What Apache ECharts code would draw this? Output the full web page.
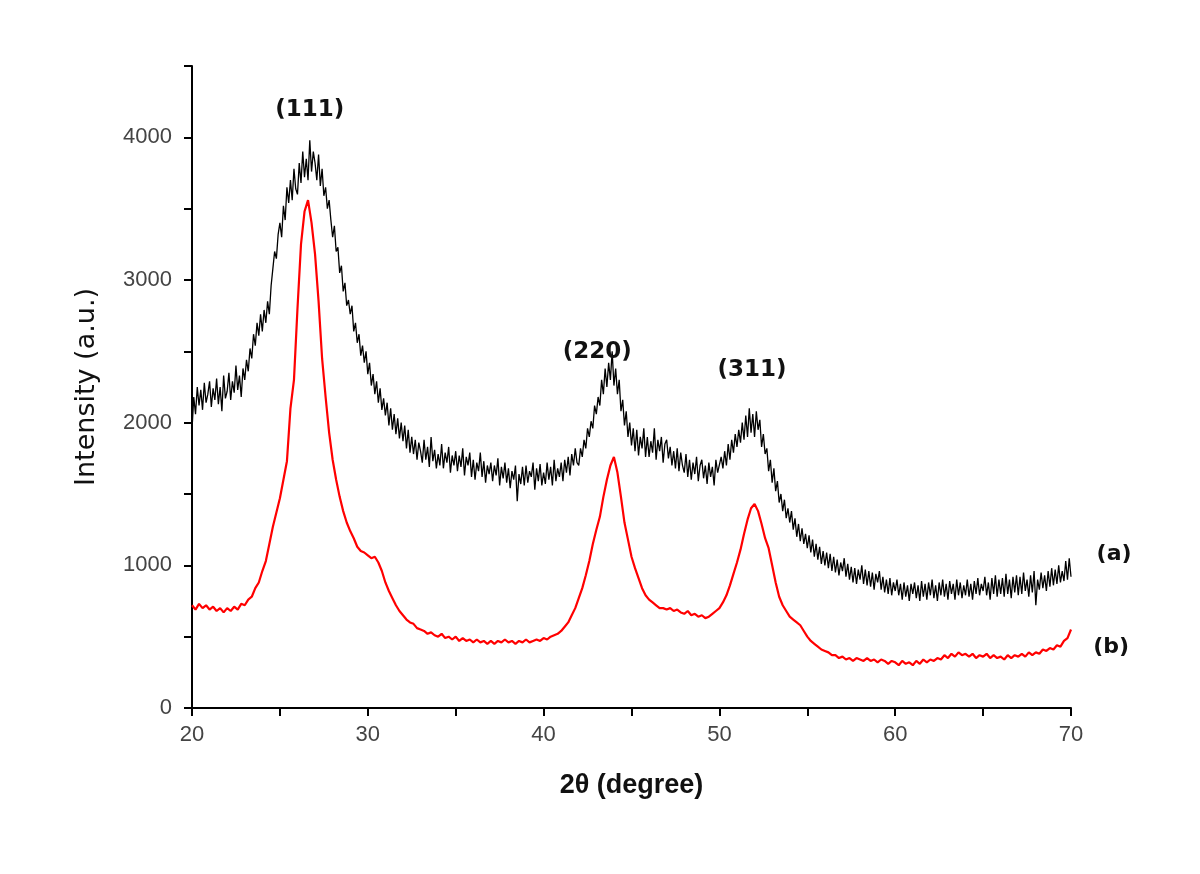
<!DOCTYPE html>
<html>
<head>
<meta charset="utf-8">
<script src="https://cdn.jsdelivr.net/npm/echarts@6/dist/echarts.min.js"></script>
<style>
html,body{margin:0;padding:0;background:#fff;}
#chart{width:1200px;height:874px;}
</style>
</head>
<body>
<div id="chart"></div>
<script>
// 2-theta sampling (degrees)
const twoThetaStart = 20;
const stepA = 0.1;   // curve (a) sampling step
const stepB = 0.2;   // curve (b) sampling step

// Curve (a): black, one row per degree (20.0 ... 20.9, 21.0 ... ), last value at 70
const intensityA = [
1950,2180,2060,2250,2120,2230,2090,2280,2140,2200,
2290,2110,2240,2160,2310,2130,2250,2080,2330,2170,
2220,2350,2160,2290,2210,2400,2230,2330,2180,2380,
2300,2440,2360,2520,2450,2620,2540,2700,2610,2760,
2640,2790,2700,2850,2760,2960,3080,3200,3150,3320,
3400,3300,3520,3420,3650,3540,3700,3560,3780,3640,
3600,3820,3680,3900,3720,3850,3700,3980,3760,3900,
3820,3700,3880,3660,3780,3590,3650,3500,3560,3420,
3300,3380,3200,3230,3050,3100,2920,2980,2820,2860,
2760,2820,2640,2700,2560,2620,2470,2540,2420,2500,
2340,2420,2260,2340,2200,2290,2140,2240,2090,2170,
2050,2140,1980,2100,1950,2060,1920,2030,1890,2000,
1870,1980,1820,1950,1790,1900,1780,1880,1740,1860,
1800,1720,1880,1740,1830,1690,1900,1730,1810,1680,
1780,1700,1850,1680,1790,1720,1830,1650,1770,1700,
1800,1660,1770,1690,1820,1630,1760,1700,1790,1620,
1740,1600,1720,1660,1790,1620,1730,1580,1700,1640,
1720,1590,1700,1630,1750,1560,1690,1610,1720,1580,
1680,1540,1660,1600,1700,1450,1640,1570,1690,1560,
1700,1580,1660,1620,1720,1530,1680,1590,1710,1560,
1650,1570,1720,1600,1690,1560,1740,1590,1680,1620,
1720,1590,1740,1650,1760,1630,1780,1700,1820,1720,
1700,1820,1760,1880,1820,1960,1900,2010,1960,2120,
2060,2180,2120,2300,2200,2380,2250,2420,2300,2500,
2260,2380,2200,2300,2080,2160,1980,2080,1900,2000,
1840,1960,1800,1950,1770,1900,1820,1960,1760,1900,
1760,1870,1790,1960,1740,1880,1800,1900,1720,1850,
1880,1750,1830,1700,1800,1680,1820,1660,1790,1700,
1650,1780,1620,1740,1600,1720,1640,1760,1590,1700,
1740,1610,1700,1570,1720,1620,1690,1560,1740,1650,
1640,1760,1680,1800,1700,1850,1740,1880,1790,1920,
1830,1950,1860,2000,1880,2050,1900,2100,1930,2060,
1900,2080,1950,2020,1830,1920,1780,1820,1660,1740,
1580,1680,1520,1590,1440,1500,1380,1460,1330,1400,
1300,1380,1250,1330,1200,1290,1170,1260,1150,1220,
1120,1210,1090,1180,1060,1150,1040,1130,1010,1100,
1000,1090,980,1080,960,1060,950,1040,930,1020,
960,1050,920,1010,900,990,880,980,870,970,
900,1000,870,970,860,960,850,950,830,940,
880,960,830,920,810,900,800,910,790,880,
820,900,790,870,760,880,780,860,750,870,
800,880,770,860,750,890,780,870,760,880,
790,900,770,860,750,880,790,900,780,870,
760,890,800,870,760,900,790,880,770,860,
790,900,780,870,760,890,800,910,790,870,
820,920,790,880,760,910,800,930,780,900,
800,910,780,940,800,900,770,920,810,930,
790,920,800,950,820,900,780,930,810,960,
720,900,830,950,840,930,820,960,850,980,
860,970,870,1000,880,960,890,1030,900,1050,
920
];

// Curve (b): red, five values per degree (x.0, x.2, x.4, x.6, x.8), last value at 70
const intensityB = [
720,690,730,700,720, 690,710,680,700,670,
700,680,710,690,730, 720,760,780,840,880,
960,1030,1150,1270,1370, 1470,1600,1730,2100,2300,
2800,3250,3480,3560,3400, 3180,2850,2450,2180,1930,
1740,1600,1480,1380,1300, 1240,1190,1130,1100,1090,
1070,1050,1060,1020,960, 880,820,770,720,680,
650,620,600,590,560, 550,540,520,530,510,
500,520,490,500,480, 500,470,490,470,480,
460,480,460,470,450, 470,450,470,460,480,
460,470,450,470,460, 480,460,470,480,470,
490,480,500,510,520, 540,570,600,650,700,
770,840,930,1030,1150, 1250,1340,1480,1600,1700,
1760,1650,1480,1300,1180, 1060,980,910,840,790,
760,740,720,700,700, 690,700,680,690,670,
660,680,650,660,640, 650,630,640,660,680,
700,740,790,860,940, 1020,1110,1220,1320,1400,
1430,1380,1290,1190,1120, 1000,880,780,720,680,
640,620,600,580,540, 500,470,450,430,410,
400,390,370,370,350, 360,340,350,330,350,
340,330,350,330,340, 320,340,330,310,330,
320,300,330,310,320, 300,330,310,340,320,
340,330,350,340,370, 350,380,360,390,370,
380,360,380,350,370, 360,380,350,370,350,
360,340,370,350,370, 360,380,360,390,370,
390,380,410,400,420, 410,440,430,470,490,
550
];

// Annotation texts and their data-space anchors
const peakLabels = ['(111)', '(220)', '(311)'];
const peakLabelX = [26.7, 43.05, 51.85];
const peakLabelY = [4190, 2494, 2368];
const curveLabels = ['(a)', '(b)'];
const curveLabelX = [72.45, 72.28];
const curveLabelY = [1079, 427];

function pairs(vals, step) {
  const out = [];
  for (let i = 0; i < vals.length; i++) {
    out.push([+(twoThetaStart + i * step).toFixed(2), vals[i]]);
  }
  return out;
}

const chart = echarts.init(document.getElementById('chart'), null, {renderer: 'canvas'});
const axisFont = 'Liberation Sans';

chart.setOption({
  animation: false,
  backgroundColor: '#ffffff',
  grid: {left: 192, right: 129, top: 66, bottom: 166, containLabel: false},
  xAxis: {
    type: 'value',
    min: 20, max: 70, interval: 5,
    name: '2θ (degree)',
    nameLocation: 'middle',
    nameGap: 64,
    nameTextStyle: {fontFamily: axisFont, fontWeight: 'bold', fontSize: 27, color: '#111'},
    axisLine: {show: true, lineStyle: {color: '#000', width: 2}},
    axisTick: {show: true, length: 8, lineStyle: {color: '#000', width: 2}},
    axisLabel: {
      margin: 16, fontFamily: axisFont, fontSize: 22, color: '#444',
      formatter: function (v) { return v % 10 === 0 ? String(v) : ''; }
    },
    splitLine: {show: false}
  },
  yAxis: {
    type: 'value',
    min: 0, max: 4500, interval: 500,
    name: 'Intensity (a.u.)',
    nameLocation: 'middle',
    nameGap: 92,
    nameTextStyle: {fontFamily: 'DejaVu Sans', fontSize: 27, color: '#111'},
    axisLine: {show: true, lineStyle: {color: '#000', width: 2}},
    axisTick: {show: true, length: 8, lineStyle: {color: '#000', width: 2}},
    axisLabel: {
      margin: 20, fontFamily: axisFont, fontSize: 22, color: '#444',
      formatter: function (v) { return v % 1000 === 0 ? String(v) : ''; }
    },
    splitLine: {show: false}
  },
  series: [
    {
      name: '(a)', type: 'line', data: pairs(intensityA, stepA),
      showSymbol: false, symbol: 'none',
      lineStyle: {color: '#000000', width: 1.3}, z: 3
    },
    {
      name: '(b)', type: 'line', data: pairs(intensityB, stepB),
      showSymbol: false, symbol: 'none',
      lineStyle: {color: '#ff0000', width: 2.2}, z: 2
    }
  ]
});

// annotation texts placed through the chart's own coordinate conversion
const graphics = [];
const annFont = '"DejaVu Sans", sans-serif';
for (let i = 0; i < peakLabels.length; i++) {
  const p = chart.convertToPixel({gridIndex: 0}, [peakLabelX[i], peakLabelY[i]]);
  graphics.push({
    type: 'text', x: p[0], y: p[1], z: 10,
    style: {text: peakLabels[i], font: 'bold 23px ' + annFont, fill: '#111', align: 'center', verticalAlign: 'middle'}
  });
}
for (let i = 0; i < curveLabels.length; i++) {
  const p = chart.convertToPixel({gridIndex: 0}, [curveLabelX[i], curveLabelY[i]]);
  graphics.push({
    type: 'text', x: p[0], y: p[1], z: 10,
    style: {text: curveLabels[i], font: 'bold 22px ' + annFont, fill: '#111', align: 'center', verticalAlign: 'middle'}
  });
}
chart.setOption({graphic: graphics});
</script>
</body>
</html>
